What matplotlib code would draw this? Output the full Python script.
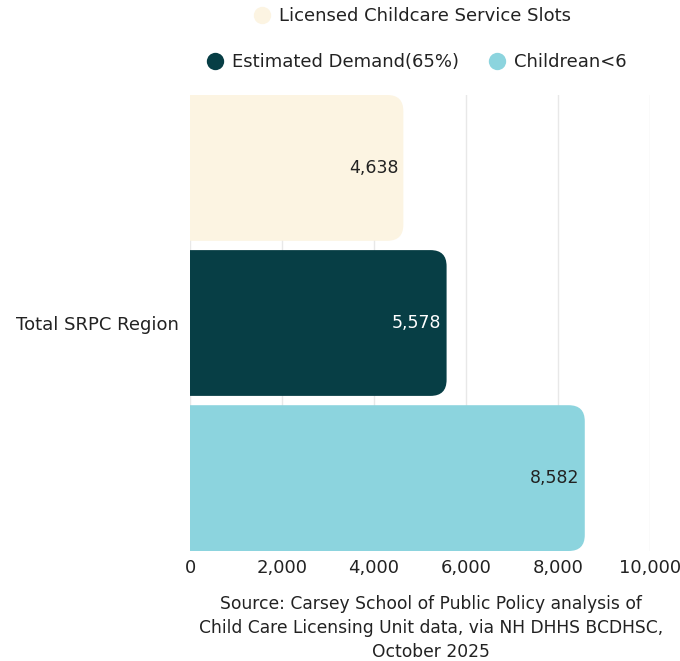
import matplotlib.pyplot as plt
from matplotlib.patches import FancyBboxPatch
from matplotlib.lines import Line2D

plt.rcParams['font.family'] = ['DejaVu Sans']

region = "Total SRPC Region"
series = ["Licensed Childcare Service Slots", "Estimated Demand(65%)", "Childrean<6"]
values = [4638, 5578, 8582]
colors = ["#FCF4E2", "#073E45", "#8CD4DE"]
label_colors = ["#222222", "white", "#222222"]
xticks = [0, 2000, 4000, 6000, 8000, 10000]
source = ("Source: Carsey School of Public Policy analysis of\n"
          "Child Care Licensing Unit data, via NH DHHS BCDHSC,\n"
          "October 2025")

fig = plt.figure(figsize=(6.8, 6.61), dpi=100)
ax = fig.add_axes([190 / 680, 1 - 551 / 661, 460 / 680, 456 / 661])

bar_h = 0.94
xmin, xmax = 0, 10000
ymin, ymax = -bar_h / 2, len(values) - 1 + bar_h / 2
ax.set_xlim(xmin, xmax)
ax.set_ylim(ymax, ymin)

# rounded ends: radius in pixels, converted to data units per axis
bbox = ax.get_position()
ax_w_px = bbox.width * fig.get_figwidth() * fig.dpi
ax_h_px = bbox.height * fig.get_figheight() * fig.dpi
x_per_px = (xmax - xmin) / ax_w_px
y_per_px = (ymax - ymin) / ax_h_px
r_px = 16
rx = r_px * x_per_px
aspect = y_per_px / x_per_px

for i, (v, c, lc) in enumerate(zip(values, colors, label_colors)):
    # start left of zero so only the right end shows rounded corners
    patch = FancyBboxPatch((-2 * rx, i - bar_h / 2), v + 2 * rx, bar_h,
                           boxstyle=f"round,pad=0,rounding_size={rx}",
                           mutation_aspect=aspect,
                           facecolor=c, edgecolor="none", zorder=2)
    ax.add_patch(patch)
    ax.text(v - 5 * x_per_px, i, f"{v:,}", ha="right", va="center",
            fontsize=12.5, color=lc, zorder=3)

ax.set_xticks(xticks)
ax.set_xticklabels([f"{t:,}" for t in xticks], fontsize=13, color="#222222")
ax.set_yticks([1])
ax.set_yticklabels([region], fontsize=13, color="#222222")
ax.tick_params(axis="x", length=0, pad=6)
ax.tick_params(axis="y", length=0, pad=8)
ax.grid(axis="x", color="#E8E8E8", linewidth=1, zorder=0)
ax.set_axisbelow(True)
for s in ax.spines.values():
    s.set_visible(False)

def dot(c):
    return Line2D([], [], marker="o", linestyle="none", markersize=12.5,
                  markerfacecolor=c, markeredgecolor="none")

leg_kw = dict(frameon=False, fontsize=13, handlelength=1.0, handletextpad=0.45,
              columnspacing=1.6, labelcolor="#222222")
fig.legend([dot(colors[0])], [series[0]], loc="center",
           bbox_to_anchor=(412 / 680, 1 - 16 / 661), **leg_kw)
fig.legend([dot(colors[1]), dot(colors[2])], series[1:], ncol=2, loc="center",
           bbox_to_anchor=(416 / 680, 1 - 62 / 661), **leg_kw)

fig.text(431 / 680, 1 - 628 / 661, source, ha="center", va="center",
         fontsize=12.3, color="#222222", linespacing=1.42)

fig.savefig("out.png", dpi=100)
